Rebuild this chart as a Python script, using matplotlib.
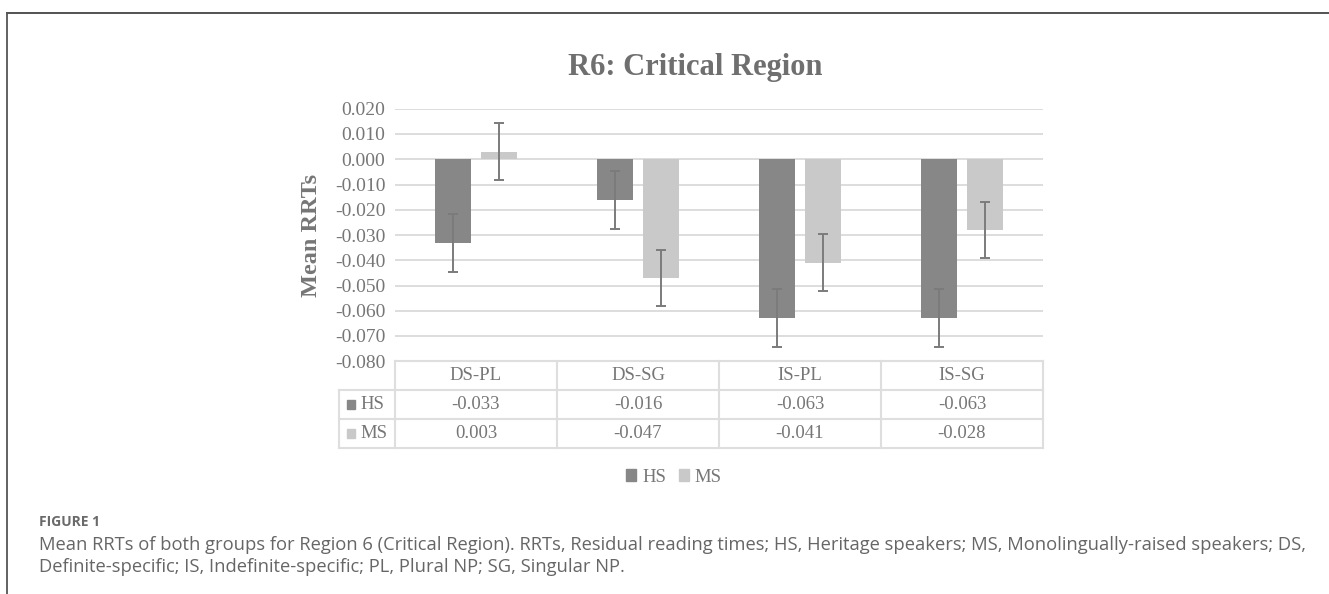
import numpy as np
import matplotlib.pyplot as plt
from matplotlib.patches import Rectangle

# data
categorias = ['DS-PL', 'DS-SG', 'IS-PL', 'IS-SG']
grupos = ['HS', 'MS']
valoresHS = [-0.033, -0.016, -0.063, -0.063]
valoresMS = [0.003, -0.047, -0.041, -0.028]
erroHS = [0.0115, 0.0115, 0.0115, 0.0115]
erroMS = [0.0112, 0.0112, 0.0112, 0.0112]
ticksY = [0.02, 0.01, 0.0, -0.01, -0.02, -0.03, -0.04, -0.05, -0.06, -0.07, -0.08]

corHS = '#878787'
corMS = '#c9c9c9'
cinza = '#767676'
grade = '#dadada'
serif = 'Liberation Serif'

W, H = 1329, 594
fig = plt.figure(figsize=(W / 100, H / 100), dpi=100)

def px(x0, y0, x1, y1):
    return [x0 / W, 1 - y1 / H, (x1 - x0) / W, (y1 - y0) / H]

# grafico principal
ax = fig.add_axes(px(395, 108.75, 1043, 361.25))
x = np.arange(len(categorias))
ax.bar(x - 0.142, valoresHS, 0.225, color=corHS, zorder=2)
ax.bar(x + 0.142, valoresMS, 0.225, color=corMS, zorder=2)
ax.errorbar(x - 0.142, valoresHS, yerr=erroHS, fmt='none', ecolor='#7b7b7b',
            elinewidth=1.4, capsize=3.6, capthick=1.4, zorder=3)
ax.errorbar(x + 0.142, valoresMS, yerr=erroMS, fmt='none', ecolor='#7b7b7b',
            elinewidth=1.4, capsize=3.6, capthick=1.4, zorder=3)
ax.set_xlim(-0.5, len(categorias) - 0.5)
ax.set_ylim(-0.08, 0.02)
ax.set_yticks(ticksY)
ax.set_yticklabels(['%.3f' % t for t in ticksY], fontfamily=serif, fontsize=14, color=cinza)
ax.set_xticks([])
ax.tick_params(axis='y', length=0, pad=7)
for t in ticksY[:-1]:
    ax.axhline(t, color=grade, lw=1.3, zorder=1)
for s in ax.spines.values():
    s.set_visible(False)
ax.set_ylabel('Mean RRTs', fontfamily=serif, fontsize=17.5, fontweight='bold', color=cinza, labelpad=9)

# tabela de dados
tx = fig.add_axes(px(339, 361, 1043, 448))
esq = -0.5 - 56 / 162
tx.set_xlim(esq, len(categorias) - 0.5)
tx.set_ylim(3, 0)
tx.axis('off')
lc = '#dedede'
tx.plot([-0.5, 3.5], [0, 0], color=lc, lw=1.5, clip_on=False)
for r in [1, 2, 3]:
    tx.plot([esq, 3.5], [r, r], color=lc, lw=1.5, clip_on=False)
tx.plot([esq, esq], [1, 3], color=lc, lw=1.5, clip_on=False)
for c in range(len(categorias) + 1):
    tx.plot([c - 0.5, c - 0.5], [0, 3], color=lc, lw=1.5, clip_on=False)
for i, cat in enumerate(categorias):
    tx.text(i, 0.5, cat, ha='center', va='center', fontfamily=serif, fontsize=13.5, color=cinza)
for r, (nome, vals, cor) in enumerate([('HS', valoresHS, corHS), ('MS', valoresMS, corMS)]):
    tx.add_patch(Rectangle((esq + 0.05, r + 1.5 - 0.14), 0.05, 0.28, color=cor, clip_on=False))
    tx.text(esq + 0.135, r + 1.5, nome, ha='left', va='center', fontfamily=serif, fontsize=13.5, color=cinza)
    for i, v in enumerate(vals):
        tx.text(i, r + 1.5, '%.3f' % v, ha='center', va='center', fontfamily=serif, fontsize=13.5, color=cinza)

# legenda
leg = fig.legend([Rectangle((0, 0), 1, 1, color=corHS), Rectangle((0, 0), 1, 1, color=corMS)], grupos,
                 loc='center', bbox_to_anchor=(674 / W, 1 - 477 / H), ncol=2, frameon=False,
                 handlelength=0.55, handleheight=0.55, handletextpad=0.3, columnspacing=0.7,
                 prop={'family': serif, 'size': 13.5})
for t in leg.get_texts():
    t.set_color(cinza)

# titulo
fig.text(695 / W, 1 - 67 / H, 'R6: Critical Region', ha='center', va='center',
         fontfamily=serif, fontsize=22, fontweight='bold', color='#6f6f6f')

# moldura
fig.add_artist(plt.Line2D([7 / W, 1], [1 - 13 / H, 1 - 13 / H], color='#444444', lw=1.3))
fig.add_artist(plt.Line2D([7 / W, 7 / W], [0, 1 - 13 / H], color='#555555', lw=1.3))

# legenda da figura
fig.text(39 / W, 1 - 522 / H, 'FIGURE 1', ha='left', va='center', fontfamily='Open Sans',
         fontsize=10, fontweight='bold', color='#6a6a6a')
fig.text(39 / W, 1 - 545 / H, 'Mean RRTs of both groups for Region 6 (Critical Region). RRTs, Residual reading times; '
         'HS, Heritage speakers; MS, Monolingually-raised speakers; DS,', ha='left', va='center',
         fontfamily='Open Sans', fontsize=13.2, color='#666666')
fig.text(39 / W, 1 - 567 / H, 'Definite-specific; IS, Indefinite-specific; PL, Plural NP; SG, Singular NP.',
         ha='left', va='center', fontfamily='Open Sans', fontsize=13.2, color='#666666')

fig.savefig('out.png', dpi=100)
